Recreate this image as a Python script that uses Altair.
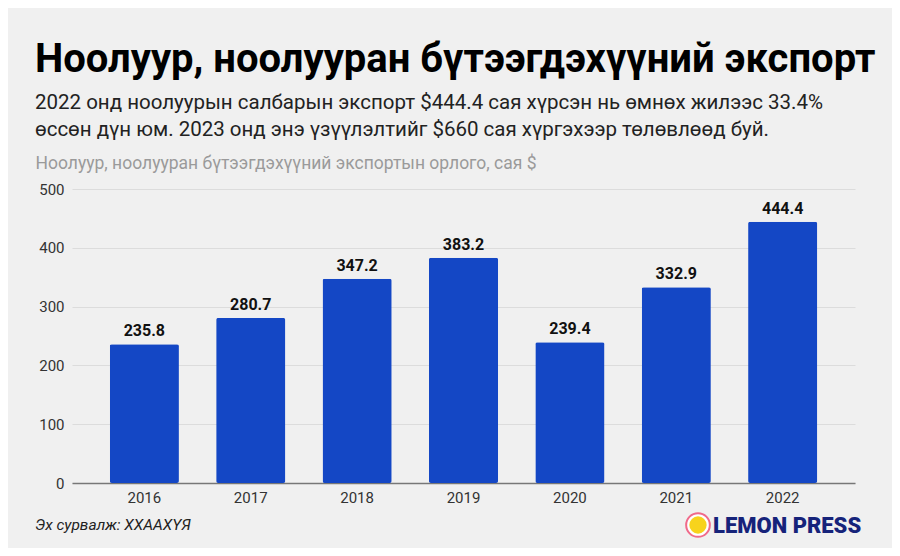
import altair as alt
import pandas as pd

years = ["2016", "2017", "2018", "2019", "2020", "2021", "2022"]
values = [235.8, 280.7, 347.2, 383.2, 239.4, 332.9, 444.4]
y_ticks = [0, 100, 200, 300, 400, 500]

title_text = "Ноолуур, ноолууран бүтээгдэхүүний экспорт"
subtitle_lines = [
    "2022 онд ноолуурын салбарын экспорт $444.4 сая хүрсэн нь өмнөх жилээс 33.4%",
    "өссөн дүн юм. 2023 онд энэ үзүүлэлтийг $660 сая хүргэхээр төлөвлөөд буй.",
]
y_axis_title = "Ноолуур, ноолууран бүтээгдэхүүний экспортын орлого, сая $"
source_text = "Эх сурвалж: ХХААХҮЯ"
logo_text = "LEMON PRESS"

df = pd.DataFrame({"year": years, "value": values})
df["label"] = [f"{v:.1f}" for v in values]

FONT = "Roboto"
W, H = 783, 294

x = alt.X(
    "year:N",
    sort=years,
    scale=alt.Scale(paddingInner=0.35, paddingOuter=0.355),
    axis=alt.Axis(
        title=None, labelAngle=0, labelFontSize=15, labelColor="#333333",
        labelFont=FONT, labelPadding=7, ticks=False, domain=True,
        domainColor="#777777", domainWidth=1.5, grid=False,
    ),
)
y = alt.Y(
    "value:Q",
    scale=alt.Scale(domain=[0, 500], nice=False),
    axis=alt.Axis(
        values=y_ticks, title=y_axis_title, titleAngle=0, titleAlign="left",
        titleBaseline="alphabetic", titleX=-37, titleY=-21, titleFontSize=17.5,
        titleFontWeight="normal", titleColor="#9a9a9a", titleFont=FONT,
        labelFontSize=15, labelColor="#333333", labelFont=FONT, labelPadding=8,
        ticks=False, domain=False, grid=True, gridColor="#dcdcdc", gridWidth=1,
    ),
)

bars = alt.Chart(df).mark_bar(color="#1447c5", cornerRadius=2).encode(x=x, y=y)

labels = alt.Chart(df).mark_text(
    font=FONT, fontSize=16, fontWeight="bold", color="#111111",
    baseline="alphabetic", dy=-8,
).encode(x=alt.X("year:N", sort=years), y="value:Q", text="label:N")

src = alt.Chart(pd.DataFrame({"t": [source_text]})).mark_text(
    font=FONT, fontSize=15.5, fontStyle="italic", color="#222222",
    align="left", baseline="middle",
).encode(x=alt.value(-37), y=alt.value(336), text="t:N")

logo_ring = alt.Chart(pd.DataFrame({"a": [1]})).mark_point(
    filled=True, shape="circle", fill="#ffffff", stroke="#f06a8a",
    strokeWidth=2, size=560, opacity=1,
).encode(x=alt.value(626), y=alt.value(336))
logo_core = alt.Chart(pd.DataFrame({"a": [1]})).mark_point(
    filled=True, shape="circle", color="#f7d31c", size=300, opacity=1,
).encode(x=alt.value(626), y=alt.value(336))
logo = alt.Chart(pd.DataFrame({"t": [logo_text]})).mark_text(
    font=FONT, fontSize=22, fontWeight=900, color="#16237a",
    align="left", baseline="middle",
).encode(x=alt.value(641), y=alt.value(337), text="t:N")

chart = alt.layer(bars, labels, src, logo_ring, logo_core, logo).properties(
    width=W,
    height=H,
    background="#f0f0f0",
    padding={"left": 64, "top": 181, "right": 37, "bottom": 65},
    autosize=alt.AutoSizeParams(type="none"),
    title=alt.TitleParams(
        text=title_text,
        subtitle=subtitle_lines,
        anchor="start",
        frame="group",
        dx=-37,
        offset=14,
        font=FONT,
        fontSize=40,
        fontWeight="bold",
        color="#000000",
        subtitleFont=FONT,
        subtitleFontSize=20.5,
        subtitleColor="#222222",
        subtitleLineHeight=27,
        subtitlePadding=13,
    ),
).configure_view(stroke=None)

chart.save("out.html", embed_options={"renderer": "svg", "actions": False})
